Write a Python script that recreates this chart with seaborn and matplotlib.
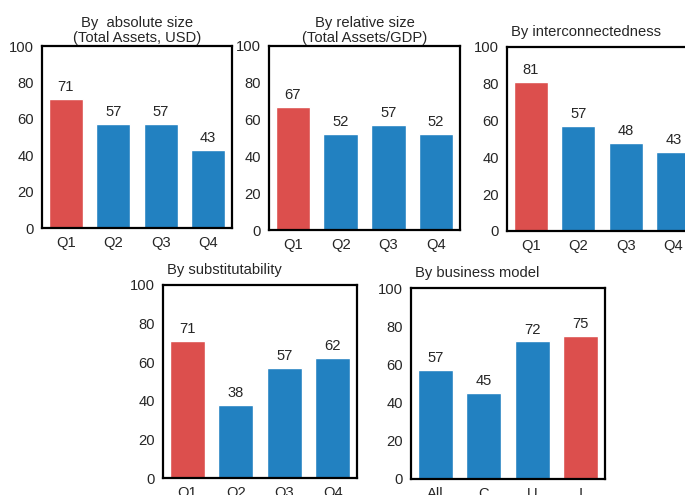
import matplotlib
matplotlib.use("Agg")
import matplotlib.pyplot as plt
import seaborn as sns
import pandas as pd

# Données
quartiles = ["Q1", "Q2", "Q3", "Q4"]
abs_size = [71, 57, 57, 43]
rel_size = [67, 52, 57, 52]
interconn = [81, 57, 48, 43]
substit = [71, 38, 57, 62]
business_cats = ["All", "C", "U", "I"]
business = [57, 45, 72, 75]

# catégorie mise en évidence (rouge) pour chaque panneau
highlight = ["Q1", "Q1", "Q1", "Q1", "I"]

titles = [
    "By  absolute size\n(Total Assets, USD)",
    "By relative size\n(Total Assets/GDP)",
    "By interconnectedness",
    "By substitutability",
    "By business model",
]

BLUE = "#2281C1"
RED = "#DC4F4D"
FS = 10.6

sns.set_style("white")
plt.rcParams["font.family"] = ["Liberation Sans", "DejaVu Sans"]
plt.rcParams["font.size"] = FS

W, H = 685, 495
fig = plt.figure(figsize=(W / 100, H / 100), dpi=100)

# positions des axes en pixels: (gauche, droite, haut, bas)
boxes = [
    (42, 232, 46, 228),
    (269, 460, 46, 230),
    (507, 697, 47, 231),
    (163, 357, 285, 478),
    (411, 605, 288, 479),
]

panels = [
    (quartiles, abs_size),
    (quartiles, rel_size),
    (quartiles, interconn),
    (quartiles, substit),
    (business_cats, business),
]

for i, ((cats, vals), (x0, x1, y0, y1)) in enumerate(zip(panels, boxes)):
    ax = fig.add_axes([x0 / W, 1 - y1 / H, (x1 - x0) / W, (y1 - y0) / H])
    df = pd.DataFrame({"cat": cats, "val": vals})
    pal = {c: (RED if c == highlight[i] else BLUE) for c in cats}
    sns.barplot(data=df, x="cat", y="val", hue="cat", palette=pal,
                width=0.72, legend=False, ax=ax, saturation=1)
    for cont in ax.containers:
        ax.bar_label(cont, padding=3.5, fontsize=FS)

    ax.set_ylim(0, 100)
    ax.set_xlim(-0.5, len(cats) - 0.5)
    ax.set_yticks(range(0, 101, 20))
    ax.set_xlabel("")
    ax.set_ylabel("")
    # ticks entre les catégories, labels au centre
    ax.set_xticks([k - 0.5 for k in range(len(cats) + 1)], minor=False)
    ax.set_xticklabels([])
    ax.set_xticks(range(len(cats)), minor=True)
    ax.set_xticklabels(cats, minor=True)
    ax.tick_params(axis="x", which="major", direction="out", length=4, width=1.5, color="black")
    ax.tick_params(axis="x", which="minor", length=0, pad=6, labelsize=FS)
    ax.tick_params(axis="y", direction="out", length=4, width=1.5, color="black",
                   labelsize=FS, pad=2)
    for sp in ax.spines.values():
        sp.set_visible(True)
        sp.set_linewidth(1.6)
        sp.set_color("black")

    if i < 2:
        ax.set_title(titles[i], fontsize=FS, pad=3, linespacing=1.05)
    else:
        ax.set_title(titles[i], fontsize=FS, loc="left", pad=8, x=0.02)

fig.savefig("out.png", dpi=100)
